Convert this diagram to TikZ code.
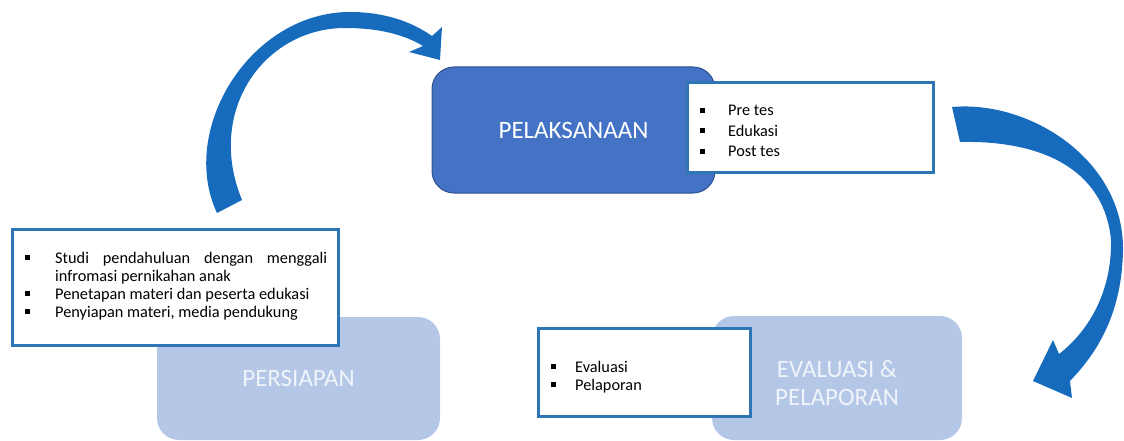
\documentclass[tikz,border=0pt]{standalone}
\usepackage{fontspec}
\setmainfont{Carlito}
\definecolor{lightbox}{RGB}{180,199,231}
\definecolor{midbox}{RGB}{68,114,196}
\definecolor{midborder}{RGB}{47,82,143}
\definecolor{listborder}{RGB}{46,117,182}
\definecolor{arrowblue}{RGB}{23,107,189}
\definecolor{headtext}{RGB}{240,244,250}
\newlength\bulletsep
\newcommand\bitem[1]{\par\hangindent=\bulletsep\hangafter=1\noindent\makebox[\bulletsep][l]{\rule[3pt]{5pt}{5pt}}#1}
\begin{document}
\begin{tikzpicture}[x=1pt,y=-1pt,
 stage/.style={rounded corners=22pt, inner sep=0pt, align=center, font=\fontsize{25}{28}\selectfont},
 light/.style={stage, fill=lightbox, text=headtext},
 dark/.style={stage, fill=midbox, draw=midborder, line width=1pt, text=white},
 listbox/.style={draw=listborder, line width=3pt, fill=white, inner sep=0pt},
 listtext/.style={anchor=north west, inner sep=0pt, align=justify, font=\fontsize{16.3}{18}\selectfont},
 bigarrow/.style={fill=arrowblue}
]
\useasboundingbox (0,0) rectangle (1124,441);

% stage boxes
\node[light, minimum width=283pt, minimum height=123pt] (persiapan) at (298.5,378.5) {PERSIAPAN};
\node[dark, minimum width=283pt, minimum height=126pt] (pelaksanaan) at (573.5,130) {PELAKSANAAN};
\node[light, minimum width=250pt, minimum height=124pt] (evaluasi) at (837,378) {\rule{0pt}{28pt}EVALUASI \&\\PELAPORAN};

% list boxes
\node[listbox, minimum width=326pt, minimum height=116pt] (prepbox) at (175,287) {};
\node[listtext, text width=302pt] (preplist) at (25,245) {\setlength\bulletsep{30pt}%
\bitem{Studi pendahuluan dengan menggali\linebreak infromasi pernikahan anak}%
\bitem{Penetapan materi dan peserta edukasi}%
\bitem{Penyiapan materi, media pendukung}};

\node[listbox, minimum width=246pt, minimum height=89pt] (pelbox) at (810,127.5) {};
\node[listtext, text width=220pt, font=\fontsize{16.3}{20.5}\selectfont] (pellist) at (700,95) {\setlength\bulletsep{28pt}%
\bitem{Pre tes}%
\bitem{Edukasi}%
\bitem{Post tes}};

\node[listbox, minimum width=212pt, minimum height=88pt] (evabox) at (644,372) {};
\node[listtext, text width=190pt] (evalist) at (551,354) {\setlength\bulletsep{24pt}%
\bitem{Evaluasi}%
\bitem{Pelaporan}};

% curved arrows
\fill[bigarrow] (217,213) .. controls (178,130) and (250,12) .. (350,12)
  .. controls (385,12) and (412,22) .. (432,36) -- (442,27) -- (440,60) -- (409,52) -- (423,46)
  .. controls (405,35) and (380,28) .. (345,28)
  .. controls (265,28) and (205,110) .. (242,200) -- cycle;

\fill[bigarrow] (952,107) .. controls (1030,100) and (1124,160) .. (1123,250)
  .. controls (1122,310) and (1100,350) .. (1070,381) -- (1072,398) -- (1033,381) -- (1053,340) -- (1059,354)
  .. controls (1090,330) and (1112,290) .. (1111,240)
  .. controls (1105,175) and (1050,140) .. (960,142) -- cycle;
\end{tikzpicture}
\end{document}
